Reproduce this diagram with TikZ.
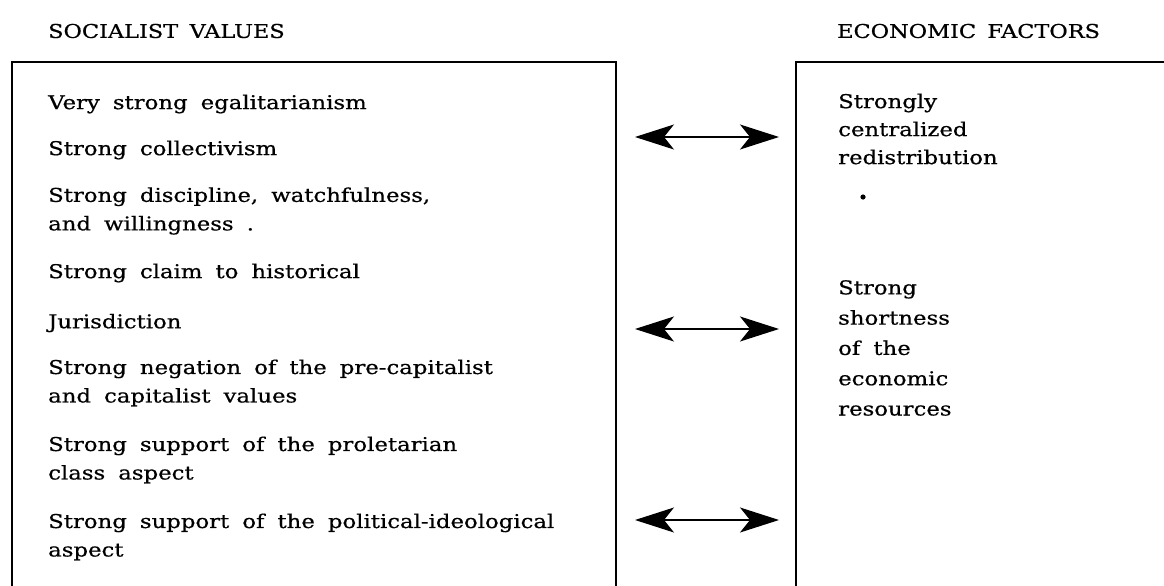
\documentclass[tikz,border=0pt]{standalone}
\usepackage{fontspec}
\setmainfont{DejaVu Serif}[FakeStretch=1.2, WordSpace=1.8, FakeBold=0.6]
\newfontfamily\headfont{DejaVu Serif}[FakeStretch=1.18, WordSpace=1.6, FakeBold=0.6]
\usetikzlibrary{arrows.meta}
\tikzset{
  frame/.style={line width=1.4pt},
  item/.style={anchor=west, inner sep=0pt, align=left, font=\fontsize{19}{28.5}\selectfont},
  head/.style={anchor=west, inner sep=0pt, font=\headfont\fontsize{19}{24}\selectfont},
  link/.style={line width=1.2pt, {Stealth[length=39pt,width=25pt,inset=10pt]}-{Stealth[length=39pt,width=25pt,inset=10pt]}}
}
\begin{document}
\begin{tikzpicture}[x=1pt,y=-1pt]
\useasboundingbox[fill=white] (0,0) rectangle (1164,586);
% column headings
\node[head] (hl) at (48,31) {SOCIALIST VALUES};
\node[head] (hr) at (837,31) {ECONOMIC FACTORS};
% open-bottomed frames
\draw[frame] (12,586) -- (12,62) -- (616,62) -- (616,586);
\draw[frame] (796,586) -- (796,62) -- (1164,62);
% socialist values
\node[item] (v1) at (48,104) {Very strong egalitarianism};
\node[item] (v2) at (48,150) {Strong collectivism};
\node[item] (v3) at (48,211) {Strong discipline, watchfulness,\\and willingness .};
\node[item] (v4) at (48,273) {Strong claim to historical};
\node[item] (v5) at (48,323) {Jurisdiction};
\node[item] (v6) at (48,383) {Strong negation of the pre-capitalist\\and capitalist values};
\node[item] (v7) at (48,460) {Strong support of the proletarian\\class aspect};
\node[item] (v8) at (48,537) {Strong support of the political-ideological\\aspect};
% economic factors
\node[item, font=\fontsize{19}{28}\selectfont] (e1) at (838,129) {Strongly\\centralized\\redistribution};
\fill (863,197) circle (2.6pt);
\node[item, font=\fontsize{19}{30.3}\selectfont] (e2) at (838,348) {Strong\\shortness\\of the\\economic\\resources};
% links between the columns
\coordinate (a1) at (635,137); \coordinate (b1) at (779,137);
\coordinate (a2) at (635,329); \coordinate (b2) at (779,329);
\coordinate (a3) at (635,520); \coordinate (b3) at (779,520);
\draw[link] (a1) -- (b1);
\draw[link] (a2) -- (b2);
\draw[link] (a3) -- (b3);
\end{tikzpicture}
\end{document}
